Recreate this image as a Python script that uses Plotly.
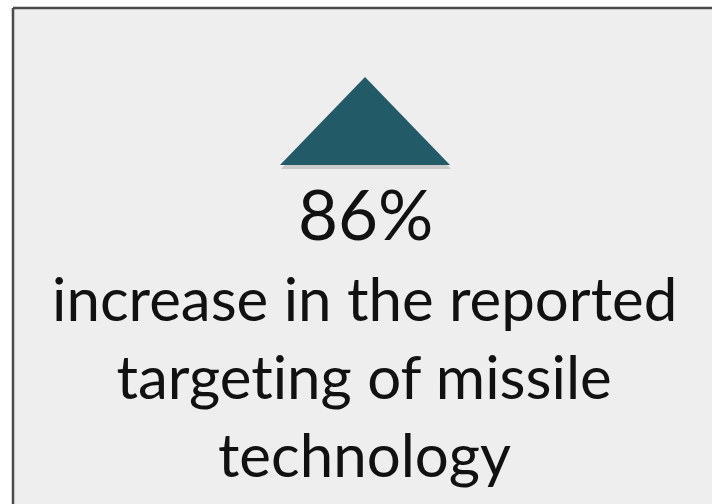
import plotly.graph_objects as go

# data
change_pct = 86
headline = f"{change_pct}%"
caption_lines = ["increase in the reported", "targeting of missile", "technology"]
tri_x = [280, 365, 450, 280]
tri_y = [165, 77, 165, 165]

W, H = 712, 504
fig = go.Figure()

# panel background
fig.add_shape(type="rect", x0=13, y0=8, x1=W, y1=H, xref="x", yref="y",
              fillcolor="#eeeeee", line_width=0, layer="below")
# border (left and top)
fig.add_shape(type="line", x0=13, y0=8, x1=13, y1=H, line=dict(color="#4a4a4a", width=2.5))
fig.add_shape(type="line", x0=13, y0=8, x1=W, y1=8, line=dict(color="#4a4a4a", width=2.5))

# triangle shadow
fig.add_trace(go.Scatter(x=[t + 1 for t in tri_x], y=[t + 4 for t in tri_y], fill="toself",
                         mode="none", fillcolor="rgba(0,0,0,0.15)", hoverinfo="skip",
                         showlegend=False))
fig.add_trace(go.Scatter(x=tri_x, y=tri_y, fill="toself", mode="none",
                         fillcolor="#235a68", hoverinfo="skip", showlegend=False))

font = "Lato, 'Open Sans', sans-serif"
fig.add_annotation(x=365, y=213, text=headline, showarrow=False,
                   font=dict(family=font, size=69, color="#111111"), xanchor="center", yanchor="middle")
for i, line in enumerate(caption_lines):
    fig.add_annotation(x=364, y=298 + i * 78, text=line, showarrow=False,
                       font=dict(family=font, size=60, color="#111111"),
                       xanchor="center", yanchor="middle")

fig.update_xaxes(range=[0, W], visible=False, fixedrange=True)
fig.update_yaxes(range=[H, 0], visible=False, fixedrange=True)
fig.update_layout(width=W, height=H, margin=dict(l=0, r=0, t=0, b=0),
                  paper_bgcolor="white", plot_bgcolor="white", showlegend=False)

post = ("document.body.style.margin='0';"
        "var s=document.createElement('style');"
        "s.textContent='text{font-variant-ligatures:none;font-feature-settings:\"liga\" 0;}';"
        "document.head.appendChild(s);")
fig.write_html("out.html", config={"displayModeBar": False}, post_script=post)
